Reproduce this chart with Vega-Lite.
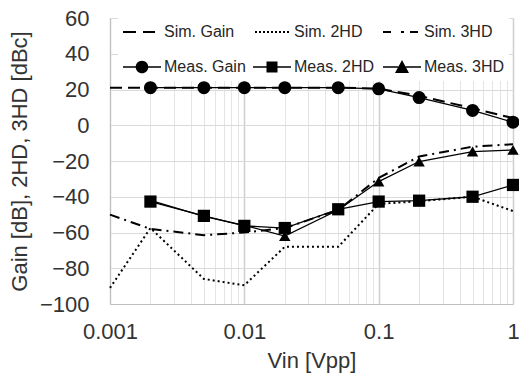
{
  "$schema": "https://vega.github.io/schema/vega-lite/v6.json",
  "width": 403,
  "height": 286,
  "autosize": "none",
  "padding": {"left": 110, "top": 18, "right": 6, "bottom": 72},
  "config": {
    "font": "Liberation Sans",
    "view": {"stroke": "#d9d9d9"},
    "axis": {"labelColor": "#333333", "titleColor": "#333333", "titleFontWeight": "normal"}
  },
  "data": {
    "values": [
      {"vin": 0.001, "series": "Sim. Gain", "value": 21},
      {"vin": 0.002, "series": "Sim. Gain", "value": 21},
      {"vin": 0.005, "series": "Sim. Gain", "value": 21},
      {"vin": 0.01, "series": "Sim. Gain", "value": 21},
      {"vin": 0.02, "series": "Sim. Gain", "value": 21},
      {"vin": 0.05, "series": "Sim. Gain", "value": 21},
      {"vin": 0.1, "series": "Sim. Gain", "value": 20.5},
      {"vin": 0.2, "series": "Sim. Gain", "value": 16.5},
      {"vin": 0.5, "series": "Sim. Gain", "value": 9.5},
      {"vin": 1, "series": "Sim. Gain", "value": 4},
      {"vin": 0.001, "series": "Sim. 2HD", "value": -91},
      {"vin": 0.002, "series": "Sim. 2HD", "value": -57.5},
      {"vin": 0.005, "series": "Sim. 2HD", "value": -86},
      {"vin": 0.01, "series": "Sim. 2HD", "value": -89.5},
      {"vin": 0.02, "series": "Sim. 2HD", "value": -68},
      {"vin": 0.05, "series": "Sim. 2HD", "value": -68},
      {"vin": 0.1, "series": "Sim. 2HD", "value": -44},
      {"vin": 0.2, "series": "Sim. 2HD", "value": -42.5},
      {"vin": 0.5, "series": "Sim. 2HD", "value": -40},
      {"vin": 1, "series": "Sim. 2HD", "value": -48},
      {"vin": 0.001, "series": "Sim. 3HD", "value": -50},
      {"vin": 0.002, "series": "Sim. 3HD", "value": -58},
      {"vin": 0.005, "series": "Sim. 3HD", "value": -61.5},
      {"vin": 0.01, "series": "Sim. 3HD", "value": -60},
      {"vin": 0.02, "series": "Sim. 3HD", "value": -57.5},
      {"vin": 0.05, "series": "Sim. 3HD", "value": -47.4},
      {"vin": 0.1, "series": "Sim. 3HD", "value": -29.5},
      {"vin": 0.2, "series": "Sim. 3HD", "value": -17.5},
      {"vin": 0.5, "series": "Sim. 3HD", "value": -12},
      {"vin": 1, "series": "Sim. 3HD", "value": -10.6},
      {"vin": 0.002, "series": "Meas. Gain", "value": 21},
      {"vin": 0.005, "series": "Meas. Gain", "value": 21},
      {"vin": 0.01, "series": "Meas. Gain", "value": 21},
      {"vin": 0.02, "series": "Meas. Gain", "value": 21},
      {"vin": 0.05, "series": "Meas. Gain", "value": 21},
      {"vin": 0.1, "series": "Meas. Gain", "value": 20.4},
      {"vin": 0.2, "series": "Meas. Gain", "value": 15.5},
      {"vin": 0.5, "series": "Meas. Gain", "value": 8.3},
      {"vin": 1, "series": "Meas. Gain", "value": 1.7},
      {"vin": 0.002, "series": "Meas. 2HD", "value": -42.7},
      {"vin": 0.005, "series": "Meas. 2HD", "value": -50.7},
      {"vin": 0.01, "series": "Meas. 2HD", "value": -56.3},
      {"vin": 0.02, "series": "Meas. 2HD", "value": -57.5},
      {"vin": 0.05, "series": "Meas. 2HD", "value": -47},
      {"vin": 0.1, "series": "Meas. 2HD", "value": -42.7},
      {"vin": 0.2, "series": "Meas. 2HD", "value": -42.2},
      {"vin": 0.5, "series": "Meas. 2HD", "value": -40},
      {"vin": 1, "series": "Meas. 2HD", "value": -33.4},
      {"vin": 0.002, "series": "Meas. 3HD", "value": -42},
      {"vin": 0.005, "series": "Meas. 3HD", "value": -51},
      {"vin": 0.01, "series": "Meas. 3HD", "value": -56},
      {"vin": 0.02, "series": "Meas. 3HD", "value": -62},
      {"vin": 0.05, "series": "Meas. 3HD", "value": -47.4},
      {"vin": 0.1, "series": "Meas. 3HD", "value": -31.5},
      {"vin": 0.2, "series": "Meas. 3HD", "value": -20.3},
      {"vin": 0.5, "series": "Meas. 3HD", "value": -14.7},
      {"vin": 1, "series": "Meas. 3HD", "value": -13.8}
    ]
  },
  "encoding": {
    "x": {
      "field": "vin",
      "type": "quantitative",
      "scale": {"type": "log", "domain": [0.001, 1], "nice": false},
      "axis": {
        "values": [0.001, 0.002, 0.003, 0.004, 0.005, 0.006, 0.007, 0.008, 0.009, 0.01, 0.02, 0.03, 0.04, 0.05, 0.06, 0.07, 0.08, 0.09, 0.1, 0.2, 0.3, 0.4, 0.5, 0.6, 0.7, 0.8, 0.9, 1],
        "labelExpr": "(datum.value === 0.001 || datum.value === 0.01 || datum.value === 0.1 || datum.value === 1) ? format(datum.value, '~g') : ''",
        "grid": true,
        "gridColor": {"condition": {"test": "datum.value === 0.001 || datum.value === 0.01 || datum.value === 0.1 || datum.value === 1", "value": "#cfcfcf"}, "value": "#e4e4e4"},
        "gridWidth": {"condition": {"test": "datum.value === 0.001 || datum.value === 0.01 || datum.value === 0.1 || datum.value === 1", "value": 1.5}, "value": 1},
        "ticks": false,
        "domainColor": "#bfbfbf",
        "labelFontSize": 22,
        "labelPadding": 17,
        "labelFlush": false,
        "labelOverlap": false,
        "title": "Vin [Vpp]",
        "titleFontSize": 22,
        "titlePadding": 8
      }
    },
    "y": {
      "field": "value",
      "type": "quantitative",
      "scale": {"domain": [-100, 60], "nice": false, "zero": false},
      "axis": {
        "values": [-100, -80, -60, -40, -20, 0, 20, 40, 60],
        "grid": true,
        "gridColor": "#dadada",
        "ticks": false,
        "domainColor": "#bfbfbf",
        "labelFontSize": 22,
        "labelPadding": 21,
        "title": "Gain [dB], 2HD, 3HD [dBc]",
        "titleFontSize": 22,
        "titlePadding": 8
      }
    }
  },
  "layer": [
    {
      "transform": [{"filter": {"field": "series", "oneOf": ["Sim. Gain", "Sim. 2HD", "Sim. 3HD"]}}],
      "mark": {"type": "line", "color": "black", "strokeWidth": 2},
      "encoding": {
        "strokeDash": {
          "field": "series",
          "type": "nominal",
          "scale": {"domain": ["Sim. Gain", "Sim. 2HD", "Sim. 3HD"], "range": [[12, 6], [2, 3], [10, 5, 2, 5]]},
          "legend": null
        }
      }
    },
    {
      "transform": [{"filter": {"field": "series", "oneOf": ["Meas. Gain", "Meas. 2HD", "Meas. 3HD"]}}],
      "mark": {"type": "line", "color": "black", "strokeWidth": 1.3},
      "encoding": {"detail": {"field": "series", "type": "nominal"}}
    },
    {
      "mark": {"type": "point", "opacity": 0, "filled": true, "color": "black"},
      "encoding": {
        "shape": {
          "field": "series",
          "type": "nominal",
          "scale": {
            "domain": ["Sim. Gain", "Sim. 2HD", "Sim. 3HD", "Meas. Gain", "Meas. 2HD", "Meas. 3HD"],
            "range": [
              "M-1,-0.1H0.3V0.1H-1ZM1,-0.1H2.2V0.1H1Z",
              "M-0.8,-0.1h0.2v0.2h-0.2ZM-0.4,-0.1h0.2v0.2h-0.2ZM0,-0.1h0.2v0.2h-0.2ZM0.4,-0.1h0.2v0.2h-0.2ZM0.8,-0.1h0.2v0.2h-0.2ZM1.2,-0.1h0.2v0.2h-0.2ZM1.6,-0.1h0.2v0.2h-0.2ZM2,-0.1h0.2v0.2h-0.2ZM2.4,-0.1h0.2v0.2h-0.2Z",
              "M-1,-0.1H-0.2V0.1H-1ZM0.8,-0.1H1.1V0.1H0.8ZM1.7,-0.1H2.5V0.1H1.7Z",
              "M-1,-0.065H0.29V0.065H-1ZM1.51,-0.065H2.8V0.065H1.51ZM1.53,0A0.63,0.63 0 1,1 0.27,0A0.63,0.63 0 1,1 1.53,0Z",
              "M-1,-0.065H0.35V0.065H-1ZM1.45,-0.065H2.8V0.065H1.45ZM0.35,-0.55H1.45V0.55H0.35Z",
              "M-1,-0.065H0.53V0.065H-1ZM1.27,-0.065H2.8V0.065H1.27ZM0.9,-0.7L1.6,0.6H0.2Z"
            ]
          },
          "legend": {
            "title": null,
            "orient": "none",
            "direction": "horizontal",
            "legendX": 8,
            "legendY": -2,
            "columns": 3,
            "gridAlign": "all",
            "symbolSize": 400,
            "labelFontSize": 16,
            "labelColor": "#262626",
            "labelOffset": 20,
            "rowPadding": 15,
            "columnPadding": 4,
            "padding": 4,
            "fillColor": "white",
            "encode": {
              "symbols": {
                "opacity": {"value": 1},
                "fill": {"value": "black"},
                "fillOpacity": {"value": 1}
              }
            }
          }
        }
      }
    },
    {
      "transform": [{"filter": {"field": "series", "oneOf": ["Meas. Gain", "Meas. 2HD", "Meas. 3HD"]}}],
      "mark": {"type": "point", "filled": true, "color": "black", "opacity": 1},
      "encoding": {
        "shape": {
          "field": "series",
          "type": "nominal",
          "scale": {"domain": ["Meas. Gain", "Meas. 2HD", "Meas. 3HD"], "range": ["circle", "square", "triangle-up"]},
          "legend": null
        },
        "size": {
          "field": "series",
          "type": "nominal",
          "scale": {"domain": ["Meas. Gain", "Meas. 2HD", "Meas. 3HD"], "range": [170, 130, 180]},
          "legend": null
        }
      }
    }
  ],
  "resolve": {"scale": {"shape": "independent", "size": "independent", "strokeDash": "independent"}}
}
